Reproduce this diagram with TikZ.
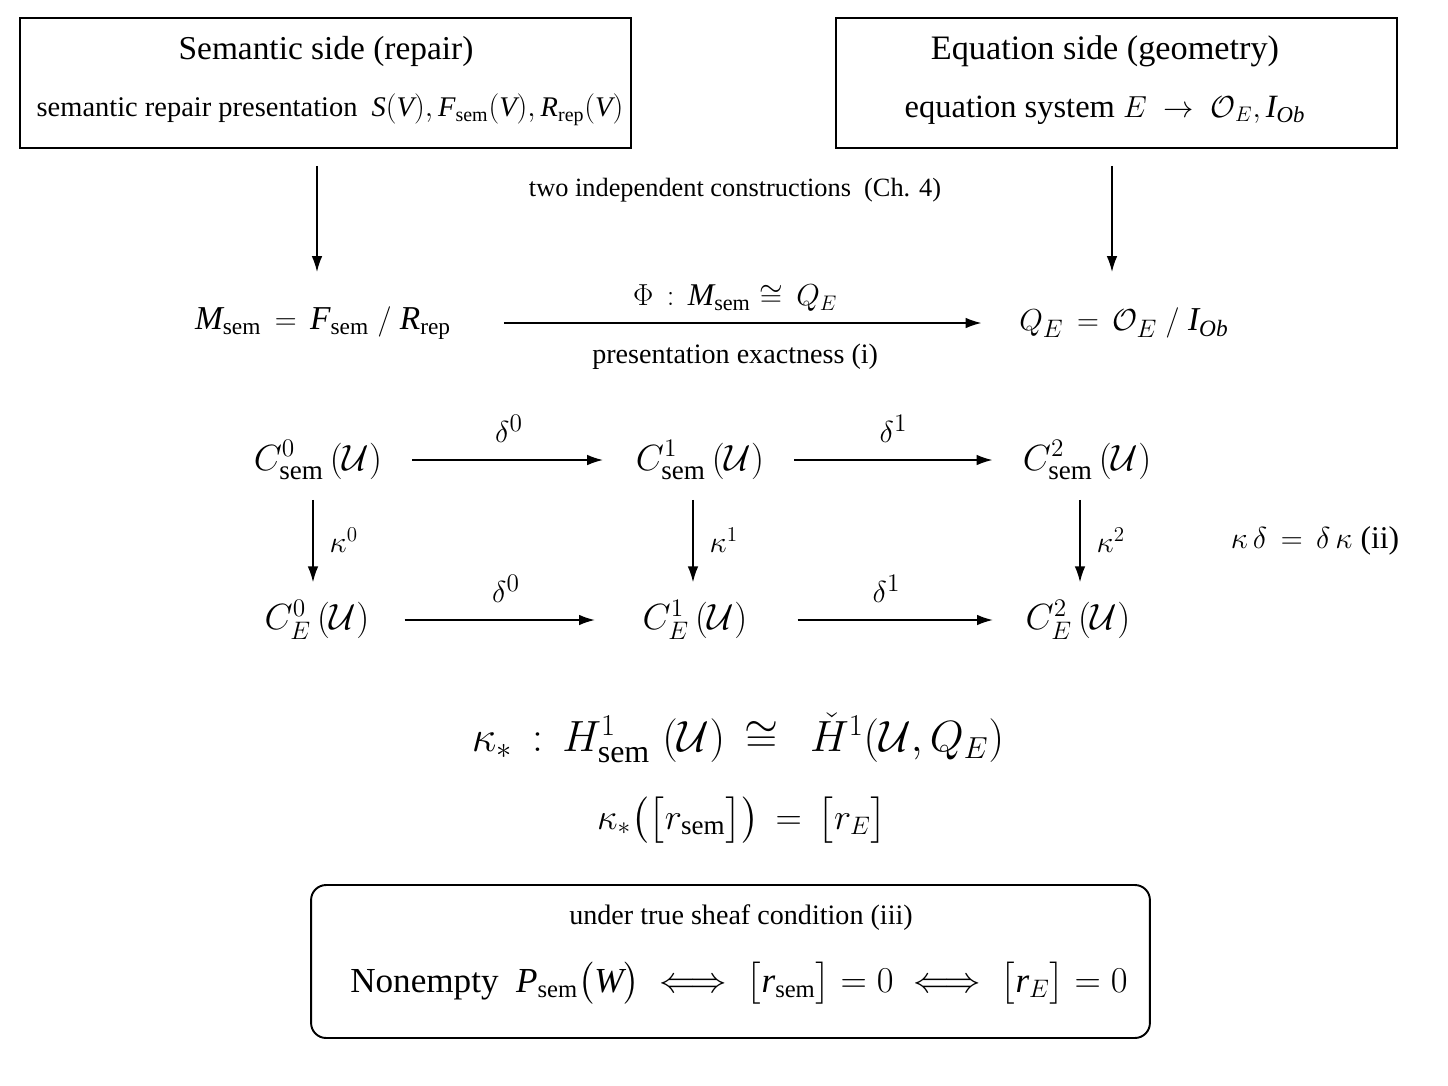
\documentclass[tikz,border=0pt]{standalone}
\usepackage{amsmath,amssymb}
\usepackage{fontspec}
\setmainfont{Liberation Serif}
\usetikzlibrary{arrows.meta,positioning}

\newcommand{\ti}[1]{\text{\itshape #1}}
\newcommand{\sem}{\text{sem}}
\newcommand{\cU}{\mathcal{U}}

\tikzset{
  sidebox/.style={draw, line width=1.1pt, inner sep=0pt},
  condbox/.style={draw, line width=1.1pt, rounded corners=0.3cm, inner sep=0pt},
  arr/.style={-{Latex[length=9pt,width=6pt]}, line width=0.9pt},
  fs/.style={font=\fontsize{#1}{#1}\selectfont},
  lbl/.style={fs=15},
  cell/.style={fs=22, inner sep=0pt}
}

\begin{document}
\begin{tikzpicture}[x=0.02cm,y=-0.02cm]
\useasboundingbox (0,0) rectangle (1448,1086);

% the two sides
\node[sidebox, minimum width=12.22cm, minimum height=2.6cm] (semBox) at (325.5,83) {};
\node[fs=19] (semHead) at (326,51) {Semantic side (repair)};
\node[fs=16.2] (semSub) at (330,110)
  {semantic repair presentation\ \ $\ti{S}(\ti{V}), \ti{F}_{\sem}(\ti{V}), \ti{R}_{\text{rep}}(\ti{V})$};

\node[sidebox, minimum width=11.22cm, minimum height=2.6cm] (eqBox) at (1116.5,83) {};
\node[fs=19.5] (eqHead) at (1105,51) {Equation side (geometry)};
\node[fs=18.5] (eqSub) at (1105,110)
  {equation system $E\;\rightarrow\;\mathcal{O}_E, \ti{I}_{\ti{Ob}}$};

\node[lbl] (indep) at (735,190) {two independent constructions\ \ (Ch. 4)};

% presentations
\node[fs=19, inner sep=0pt] (Msem) at (323,323)
  {$\ti{M}_{\sem} \,=\, \ti{F}_{\sem} \;/\; \ti{R}_{\text{rep}}$};
\node[fs=19, inner sep=0pt] (QE) at (1124,323)
  {$Q_E \,=\, \mathcal{O}_E \;/\; \ti{I}_{\ti{Ob}}$};

\coordinate (semFoot) at (317,272);
\coordinate (eqFoot)  at (1112,272);
\draw[arr] ([yshift=-0.34cm]semBox.south -| semFoot) -- (semFoot);
\draw[arr] ([yshift=-0.34cm]eqBox.south -| eqFoot) -- (eqFoot);

\draw[arr, shorten <=1.05cm, shorten >=0.75cm] (Msem.east) -- (QE.west)
  node[midway, above=0.09cm, fs=18] (phi) {$\Phi\,:\,\ti{M}_{\sem}\cong\,Q_E$}
  node[midway, below=0.28cm, fs=16] (exact) {presentation exactness (i)};

% cochain squares
\node[cell] (C0s) at (318,460) {$C^0_{\sem}\,(\cU)$};
\node[cell] (C1s) at (700,460) {$C^1_{\sem}\,(\cU)$};
\node[cell] (C2s) at (1087,460) {$C^2_{\sem}\,(\cU)$};
\node[cell] (C0E) at (317,620) {$C^0_E\,(\cU)$};
\node[cell] (C1E) at (695,620) {$C^1_E\,(\cU)$};
\node[cell] (C2E) at (1078,620) {$C^2_E\,(\cU)$};

\draw[arr, shorten <=0.6cm, shorten >=0.65cm] (C0s) -- node[above=0.22cm, fs=19] {$\delta^0$} (C1s);
\draw[arr, shorten <=0.6cm, shorten >=0.6cm] (C1s) -- node[above=0.22cm, fs=19] {$\delta^1$} (C2s);
\draw[arr, shorten <=0.7cm, shorten >=0.95cm] (C0E) -- node[above=0.22cm, fs=19] {$\delta^0$} (C1E);
\draw[arr, shorten <=1.0cm, shorten >=0.65cm] (C1E) -- node[above=0.22cm, fs=19] {$\delta^1$} (C2E);

\draw[arr, shorten <=0.4cm, shorten >=0.35cm] (C0s.south -| 313,0) -- node[right=0.2cm, fs=18] {$\kappa^0$} (C0E.north -| 313,0);
\draw[arr, shorten <=0.4cm, shorten >=0.35cm] (C1s.south -| 693,0) -- node[right=0.2cm, fs=18] {$\kappa^1$} (C1E.north -| 693,0);
\draw[arr, shorten <=0.4cm, shorten >=0.35cm] (C2s.south -| 1080,0) -- node[right=0.2cm, fs=18] {$\kappa^2$} (C2E.north -| 1080,0);

\node[fs=18] (commute) at (1315,541) {$\kappa\,\delta \,=\, \delta\,\kappa$\ (ii)};

% induced iso
\node[fs=26] (iso) at (738,738)
  {$\kappa_*\,:\,H^1_{\sem}\;(\cU)\,\cong\,\;\check{H}^1(\cU, Q_E)$};
\node[fs=22] (cls) at (742,820)
  {$\kappa_*\bigl(\bigl[r_{\sem}\bigr]\bigr) \,=\, \bigl[r_E\bigr]$};

% sheaf condition
\node[condbox, minimum width=16.78cm, minimum height=3.06cm] (condBox) at (730.5,961.5) {};
\node[fs=16] (condHead) at (741,918) {under true sheaf condition (iii)};
\node[fs=20] (condLine) at (739,983)
  {Nonempty\ \ $\ti{P}_{\sem}\bigl(\ti{W}\bigr)\;\Longleftrightarrow\;\bigl[\ti{r}_{\sem}\bigr]=0\;\Longleftrightarrow\;\bigl[\ti{r}_E\bigr]=0$};
\end{tikzpicture}
\end{document}
